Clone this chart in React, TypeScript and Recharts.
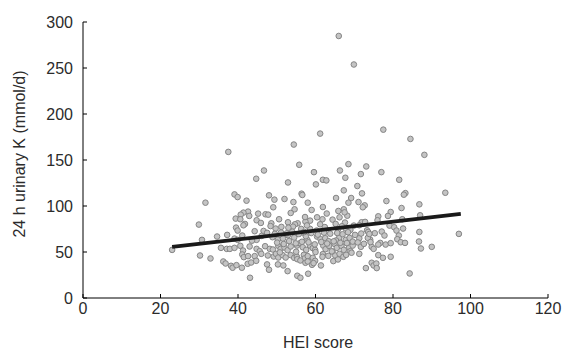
import { JSX } from 'react';
import { Scatter, ScatterChart, XAxis, YAxis } from 'recharts';

// HEI score (x) and 24 h urinary K in mmol/d (y)
const heiScore = [
  66.0, 69.9, 77.5, 61.2, 84.5, 54.4, 37.5, 88.1, 68.5, 55.8, 73.1, 46.7, 66.3, 77.0, 59.6, 71.7,
  67.7, 44.7, 81.6, 61.9, 62.8, 52.9, 60.1, 70.8, 67.3, 93.5, 56.4, 56.6, 72.0, 83.2, 82.8, 39.1,
  48.0, 39.9, 78.3, 31.6, 42.2, 49.4, 65.3, 69.2, 52.0, 54.3, 58.0, 68.5, 71.1, 86.8, 72.7, 72.2,
  61.9, 49.1, 82.2, 54.6, 59.0, 67.3, 65.9, 53.6, 42.6, 41.4, 40.7, 45.2, 47.1, 79.4, 87.0, 76.2,
  78.7, 47.8, 68.2, 42.9, 39.4, 40.6, 44.8, 50.6, 60.4, 58.6, 61.8, 64.4, 66.2, 82.4, 76.0, 71.9,
  29.9, 41.8, 41.4, 48.6, 52.9, 55.4, 54.7, 57.4, 61.2, 65.2, 67.6, 69.9, 71.3, 79.1, 80.3, 39.5,
  39.9, 44.3, 46.6, 47.5, 51.2, 49.7, 54.2, 56.3, 56.8, 58.6, 60.3, 63.2, 65.8, 67.8, 69.0, 73.3,
  73.6, 77.1, 80.9, 82.6, 86.8, 97.0, 34.6, 37.2, 41.1, 39.1, 39.9, 30.7, 44.8, 46.1, 48.9, 50.3,
  51.6, 52.9, 54.5, 57.9, 57.5, 60.4, 61.3, 62.5, 63.4, 66.1, 65.3, 67.8, 68.8, 71.3, 74.1, 73.5,
  75.3, 77.8, 81.5, 81.1, 82.0, 83.1, 76.7, 78.1, 86.7, 35.6, 37.1, 37.9, 39.1, 23.0, 40.6, 43.0,
  44.8, 45.6, 47.0, 48.2, 49.0, 50.4, 51.0, 52.0, 52.8, 53.6, 55.2, 56.0, 56.7, 57.6, 58.6, 59.3,
  59.9, 62.0, 62.6, 63.5, 64.9, 65.5, 66.7, 67.3, 68.7, 69.6, 71.7, 74.5, 75.0, 76.2, 79.4, 87.2,
  90.0, 30.2, 41.3, 41.1, 41.5, 42.6, 44.3, 46.0, 47.7, 49.2, 49.8, 50.4, 51.5, 52.3, 53.6, 54.5,
  55.2, 57.0, 57.2, 58.0, 59.3, 59.9, 61.9, 61.8, 63.3, 64.4, 65.1, 66.2, 67.2, 67.9, 69.0, 71.3,
  76.2, 77.4, 79.4, 32.9, 36.2, 36.8, 38.2, 38.6, 39.6, 41.0, 42.5, 43.4, 44.7, 47.5, 48.0, 50.3,
  51.7, 52.8, 55.3, 56.1, 57.4, 58.0, 59.1, 59.5, 61.4, 64.6, 65.8, 73.0, 74.5, 75.0, 75.7, 75.8,
  55.3, 56.1, 58.1, 43.1, 84.3,
  // denser middle of the cloud
  50.1, 51.8, 53.2, 54.9, 56.5, 58.2, 59.8, 61.5, 63.0, 64.7, 66.4, 68.1, 69.6, 70.9, 72.5, 74.2,
  49.5, 51.1, 52.6, 54.0, 55.7, 57.1, 58.9, 60.6, 62.2, 63.8, 65.6, 67.0, 68.4, 70.2, 71.8, 73.9,
  48.4, 50.8, 53.0, 55.0, 57.8, 60.0, 62.4, 64.2, 66.8, 69.3, 45.9, 43.6, 57.3, 62.9, 67.5, 72.8,
];
const urinaryK = [
  284.8, 253.8, 183.0, 178.7, 172.9, 166.8, 158.8, 155.6, 145.5, 144.8, 143.0, 138.6, 138.6, 136.8, 136.8, 134.7,
  130.7, 129.6, 128.5, 128.5, 127.8, 125.6, 123.5, 121.7, 117.0, 114.4, 113.4, 112.0, 113.7, 114.0, 112.3, 112.6,
  111.6, 109.7, 105.4, 103.6, 105.8, 106.9, 108.7, 108.7, 107.6, 104.3, 103.6, 103.6, 104.3, 101.8, 100.7, 98.6,
  98.9, 98.6, 97.8, 96.4, 95.7, 96.4, 94.6, 92.4, 93.9, 92.8, 90.6, 91.7, 91.0, 93.5, 89.9, 88.8,
  89.2, 90.6, 89.5, 89.2, 86.3, 85.6, 84.5, 85.6, 87.7, 84.1, 85.6, 85.2, 87.7, 85.6, 84.5, 82.3,
  79.8, 80.5, 79.0, 81.2, 82.3, 81.2, 80.1, 83.0, 80.1, 80.5, 82.0, 78.7, 79.1, 78.7, 76.9, 76.5,
  73.3, 72.6, 72.9, 70.8, 77.3, 75.5, 77.6, 75.1, 71.1, 75.1, 73.3, 73.6, 74.4, 75.5, 74.0, 73.6,
  71.8, 72.2, 73.3, 75.5, 71.8, 69.7, 66.8, 68.6, 67.9, 64.6, 63.2, 63.2, 63.2, 67.5, 66.1, 63.5,
  64.6, 68.2, 65.7, 63.2, 67.1, 66.8, 63.9, 65.0, 61.7, 65.3, 62.5, 63.2, 65.3, 65.0, 63.5, 65.3,
  70.4, 67.9, 67.9, 63.9, 60.6, 59.9, 59.9, 58.1, 61.4, 54.5, 53.4, 53.4, 54.5, 52.3, 56.7, 56.0,
  53.4, 50.9, 56.3, 53.4, 52.7, 56.7, 53.4, 54.9, 52.0, 56.0, 57.0, 59.6, 55.2, 52.3, 57.0, 54.2,
  52.3, 57.0, 53.1, 56.7, 58.8, 54.5, 56.7, 52.3, 55.2, 57.0, 55.6, 55.6, 53.4, 58.1, 59.6, 53.8,
  55.6, 46.2, 51.6, 47.3, 44.4, 45.5, 45.5, 48.0, 46.2, 45.1, 48.0, 44.0, 46.6, 44.0, 46.6, 43.7,
  44.8, 46.9, 43.0, 45.5, 43.7, 40.4, 47.7, 44.8, 45.8, 50.5, 46.2, 48.0, 44.8, 46.9, 50.9, 48.0,
  46.6, 43.7, 44.8, 43.0, 39.7, 37.5, 35.0, 32.9, 35.7, 32.9, 37.2, 38.6, 40.4, 36.5, 30.7, 36.5,
  35.4, 29.2, 42.2, 40.8, 38.3, 39.7, 36.1, 37.9, 35.4, 40.1, 41.9, 32.5, 38.3, 35.4, 37.5, 32.5,
  24.2, 22.0, 26.4, 22.0, 26.7,
  // denser middle of the cloud
  60.2, 58.7, 61.9, 59.4, 61.1, 60.5, 58.3, 60.9, 59.2, 61.6, 60.0, 59.7, 61.3, 60.4, 58.9, 60.8,
  69.8, 71.2, 70.3, 72.1, 69.5, 71.7, 70.6, 68.9, 71.0, 69.9, 70.7, 69.3, 71.5, 68.6, 70.1, 69.6,
  78.2, 49.6, 76.4, 50.3, 78.9, 49.9, 77.1, 50.7, 78.0, 49.2, 81.6, 62.3, 88.0, 91.8, 93.1, 82.7,
];

// fitted regression line end points
const fitX = [23, 97.5];
const fitY = [55.5, 91.5];

const xTicks = [0, 20, 40, 60, 80, 100, 120];
const yTicks = [0, 50, 100, 150, 200, 250, 300];

const points = heiScore.map((x, i) => ({ x, y: urinaryK[i] }));
const fitLine = fitX.map((x, i) => ({ x, y: fitY[i] }));

const FONT = '"Liberation Sans", Arial, Helvetica, sans-serif';
const TEXT = '#2b2b2b';

if (typeof document !== 'undefined') document.body.style.margin = '0';

type TickProps = { x?: number; y?: number; payload?: { value: number } };

const BottomTick = ({ x = 0, y = 0, payload }: TickProps) => (
  <g>
    <line x1={x} x2={x} y1={y} y2={y - 4} stroke='#000' />
    <text x={x} y={y + 16} textAnchor='middle' fontSize={16} fill={TEXT} fontFamily={FONT}>
      {payload?.value}
    </text>
  </g>
);

const LeftTick = ({ x = 0, y = 0, payload }: TickProps) => (
  <g>
    <line x1={x} x2={x + 4} y1={y} y2={y} stroke='#000' />
    <text x={x - 10} y={y} dy='0.36em' textAnchor='end' fontSize={16} fill={TEXT} fontFamily={FONT}>
      {payload?.value}
    </text>
  </g>
);

const Dot = ({ cx, cy }: { cx?: number; cy?: number }) =>
  cx == null || cy == null ? null : (
    <circle cx={cx} cy={cy} r={2.8} fill='#c4c4c4' stroke='#858585' strokeWidth={1} />
  );

export default function App(): JSX.Element {
  return (
    <div style={{ width: 577, height: 350, background: '#fff' }}>
      <ScatterChart width={577} height={350} margin={{ top: 22, right: 29, bottom: 0, left: 0 }}>
        <XAxis
          type='number'
          dataKey='x'
          domain={[0, 120]}
          ticks={xTicks}
          height={52}
          stroke='#000'
          tickLine={false}
          tickSize={0}
          tickMargin={0}
          tick={<BottomTick />}
          allowDataOverflow
        />
        <YAxis
          type='number'
          dataKey='y'
          domain={[0, 300]}
          ticks={yTicks}
          width={83}
          stroke='#000'
          tickLine={false}
          tickSize={0}
          tickMargin={0}
          tick={<LeftTick />}
          allowDataOverflow
        />
        <Scatter data={points} shape={<Dot />} isAnimationActive={false} />
        <Scatter
          data={fitLine}
          line={{ stroke: '#1a1a1a', strokeWidth: 3.8 }}
          shape={() => <g />}
          isAnimationActive={false}
        />
        <text x={318} y={348} textAnchor='middle' fontSize={16} fill={TEXT} fontFamily={FONT}>
          HEI score
        </text>
        <text
          x={25}
          y={154}
          transform='rotate(-90 25 154)'
          textAnchor='middle'
          fontSize={16}
          fill={TEXT}
          fontFamily={FONT}
        >
          24 h urinary K (mmol/d)
        </text>
      </ScatterChart>
    </div>
  );
}
